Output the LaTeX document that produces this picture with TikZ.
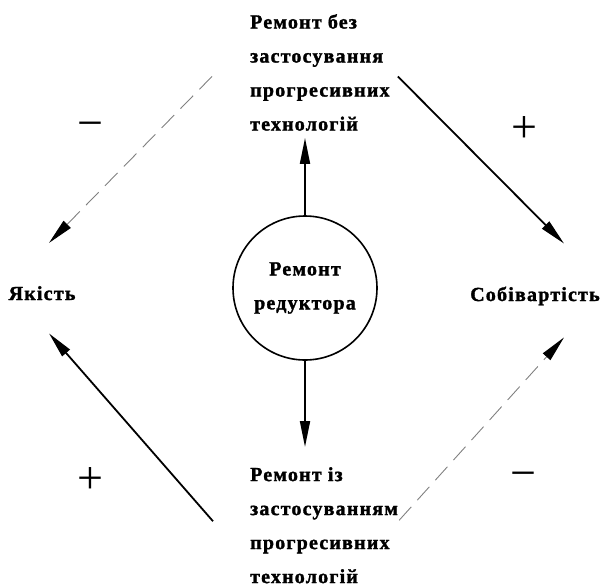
\documentclass[tikz,border=0pt]{standalone}
\usepackage{fontspec}
\setmainfont{Liberation Serif}
\newfontfamily\spacedfont[LetterSpace=6, FakeBold=1.5]{Liberation Serif}
\usetikzlibrary{arrows.meta, positioning, calc}

\begin{document}
\begin{tikzpicture}[x=1pt, y=-1pt,
  lbl/.style={inner sep=0pt, align=left, font=\spacedfont\bfseries\fontsize{20}{34}\selectfont},
  hubnode/.style={draw, circle, line width=1.6pt, minimum size=144pt, inner sep=0pt, align=center, font=\spacedfont\bfseries\fontsize{20}{34}\selectfont},
  arr/.style={-{Triangle[length=26pt, width=10pt]}, line width=1.8pt},
  darr/.style={-{Triangle[length=26pt, width=10pt, color=black]}, line width=0.9pt, black!50, dash pattern=on 18pt off 9pt},
  sign/.style={inner sep=0pt, font=\fontsize{46}{46}\selectfont}]
\useasboundingbox (0,0) rectangle (602,587);
\node[lbl, anchor=north west] (top) at (250,14) {Ремонт без\\застосування\\прогресивних\\технологій};
\node[hubnode] (hub) at (305,288) {Ремонт\\редуктора};
\node[lbl, anchor=north west] (bottom) at (250,467) {Ремонт із\\застосуванням\\прогресивних\\технологій};
\node[lbl, anchor=base] (quality) at (42,300) {Якість};
\node[lbl, anchor=base] (cost) at (535,301) {Собівартість};
% vertical arrows
\draw[arr] (hub.north) -- ($(hub.north |- top.south)+(0,7)$);
\draw[arr] (hub.south) -- ($(hub.south |- bottom.north)+(0,-20)$);
% diagonal arrows
\draw[darr] ($(top.west)+(-38,4)$) -- ($(quality.north)+(7,-43)$);
\draw[arr] ($(top.east)+(8,4)$) -- ($(cost.north)+(29,-43)$);
\draw[arr] ($(bottom.west)+(-37,-4)$) -- ($(quality.south)+(7,33)$);
\draw[darr] ($(bottom.east)+(1,-5)$) -- ($(cost.south)+(29,32)$);
% signs
\node[sign] (minusq) at (90,130) {−};
\node[sign] (plusc) at (524,130) {+};
\node[sign] (plusq) at (90,480) {+};
\node[sign] (minusc) at (523,480) {−};
\end{tikzpicture}
\end{document}
